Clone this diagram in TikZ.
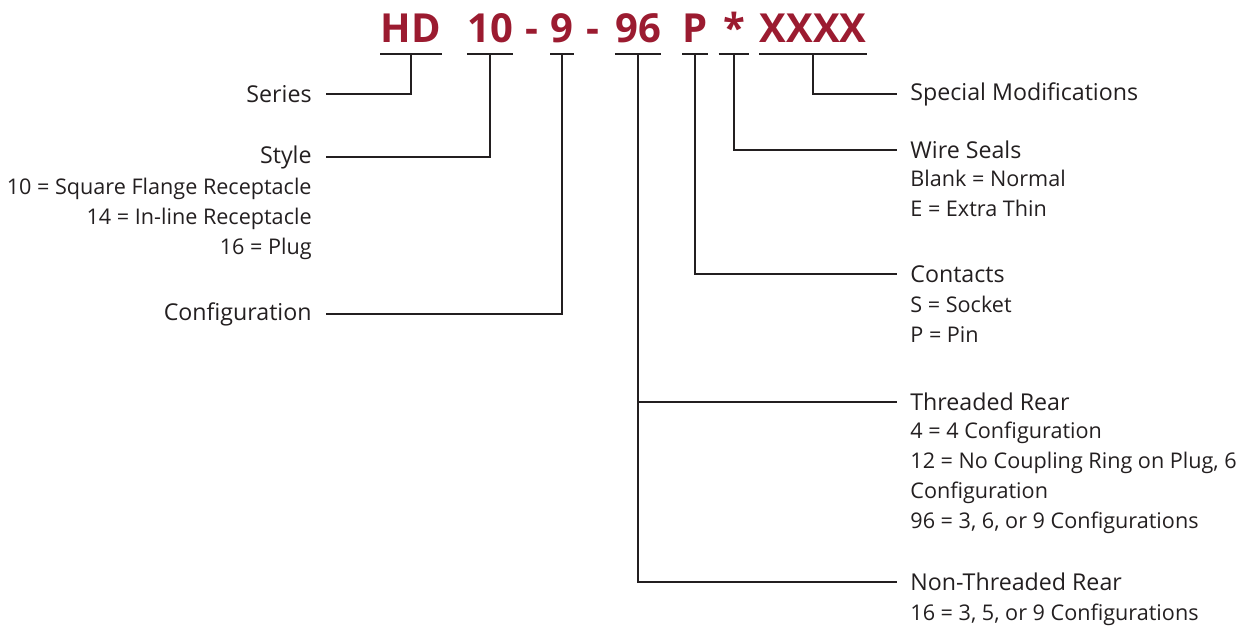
\documentclass[tikz,border=0pt]{standalone}
\usepackage{fontspec}
\setmainfont{Open Sans}
\usetikzlibrary{positioning}
\definecolor{hdred}{RGB}{155,27,48}
\definecolor{ink}{RGB}{35,31,32}

\begin{document}
\begin{tikzpicture}[
  x=0.5pt, y=-0.5pt,
  part/.style={font=\fontsize{20}{24}\selectfont\bfseries, text=hdred, inner xsep=0pt, inner ysep=0pt, text height=14pt, text depth=5.5pt, anchor=base},
  head/.style={font=\fontsize{11.6}{14}\selectfont, text=ink, inner ysep=0pt},
  lefthead/.style={head, anchor=east, inner xsep=7pt},
  righthead/.style={head, anchor=west, inner xsep=6.5pt},
  options/.style={font=\fontsize{10.8}{15}\selectfont, text=ink, inner sep=0pt},
  wire/.style={line width=1pt, ink}
]
\useasboundingbox (0,0) rectangle (1255,631);

% Part number
\node[part] (hd) at (411,43) {HD};
\node[part] (sty) at (490,43) {10};
\node[part] (d1) at (532,43) {-};
\node[part] (cfg) at (562,43) {9};
\node[part] (d2) at (593,43) {-};
\node[part] (rear) at (638,43) {96};
\node[part] (cnt) at (695,43) {P};
\node[part, inner xsep=2pt] (seal) at (734,43) {*};
\node[part] (mod) at (813,43) {XXXX};

% Left labels
\node[lefthead] (series) at (326,94) {Series};
\node[lefthead] (style) at (326,157) {Style};
\node[options, align=right, anchor=north east] (stylelist) at (312,178) {10 = Square Flange Receptacle\\14 = In-line Receptacle\\16 = Plug};
\node[lefthead] (config) at (326,314) {Configuration};

% Right labels
\node[righthead] (special) at (897,94) {Special Modifications};
\node[righthead] (wireseal) at (897,150) {Wire Seals};
\node[options, align=left, anchor=north west] (seallist) at (910,170) {Blank = Normal\\E = Extra Thin};
\node[righthead] (contacts) at (897,274) {Contacts};
\node[options, align=left, anchor=north west] (contlist) at (910,296) {S = Socket\\P = Pin};
\node[righthead] (threaded) at (897,402) {Threaded Rear};
\node[options, align=left, anchor=north west] (thrlist) at (910,422) {4 = 4 Configuration\\12 = No Coupling Ring on Plug, 6\\Configuration\\96 = 3, 6, or 9 Configurations};
\node[righthead] (plain) at (897,582) {Non-Threaded Rear};
\node[options, align=left, anchor=north west] (plainlist) at (910,604) {16 = 3, 5, or 9 Configurations};

% Underlines
\foreach \p in {hd, sty, cfg, rear, cnt, seal, mod}
  \draw[wire] (\p.south west) -- (\p.south east);

% Leaders
\draw[wire] (hd.south) |- (series.east);
\draw[wire] (sty.south) |- (style.east);
\draw[wire] (cfg.south) |- (config.east);
\draw[wire] (mod.south) |- (special.west);
\draw[wire] (seal.south) |- (wireseal.west);
\draw[wire] (cnt.south) |- (contacts.west);
\draw[wire] (rear.south) |- (plain.west);
\draw[wire] (rear.south |- threaded.west) -- (threaded.west);

\end{tikzpicture}
\end{document}
